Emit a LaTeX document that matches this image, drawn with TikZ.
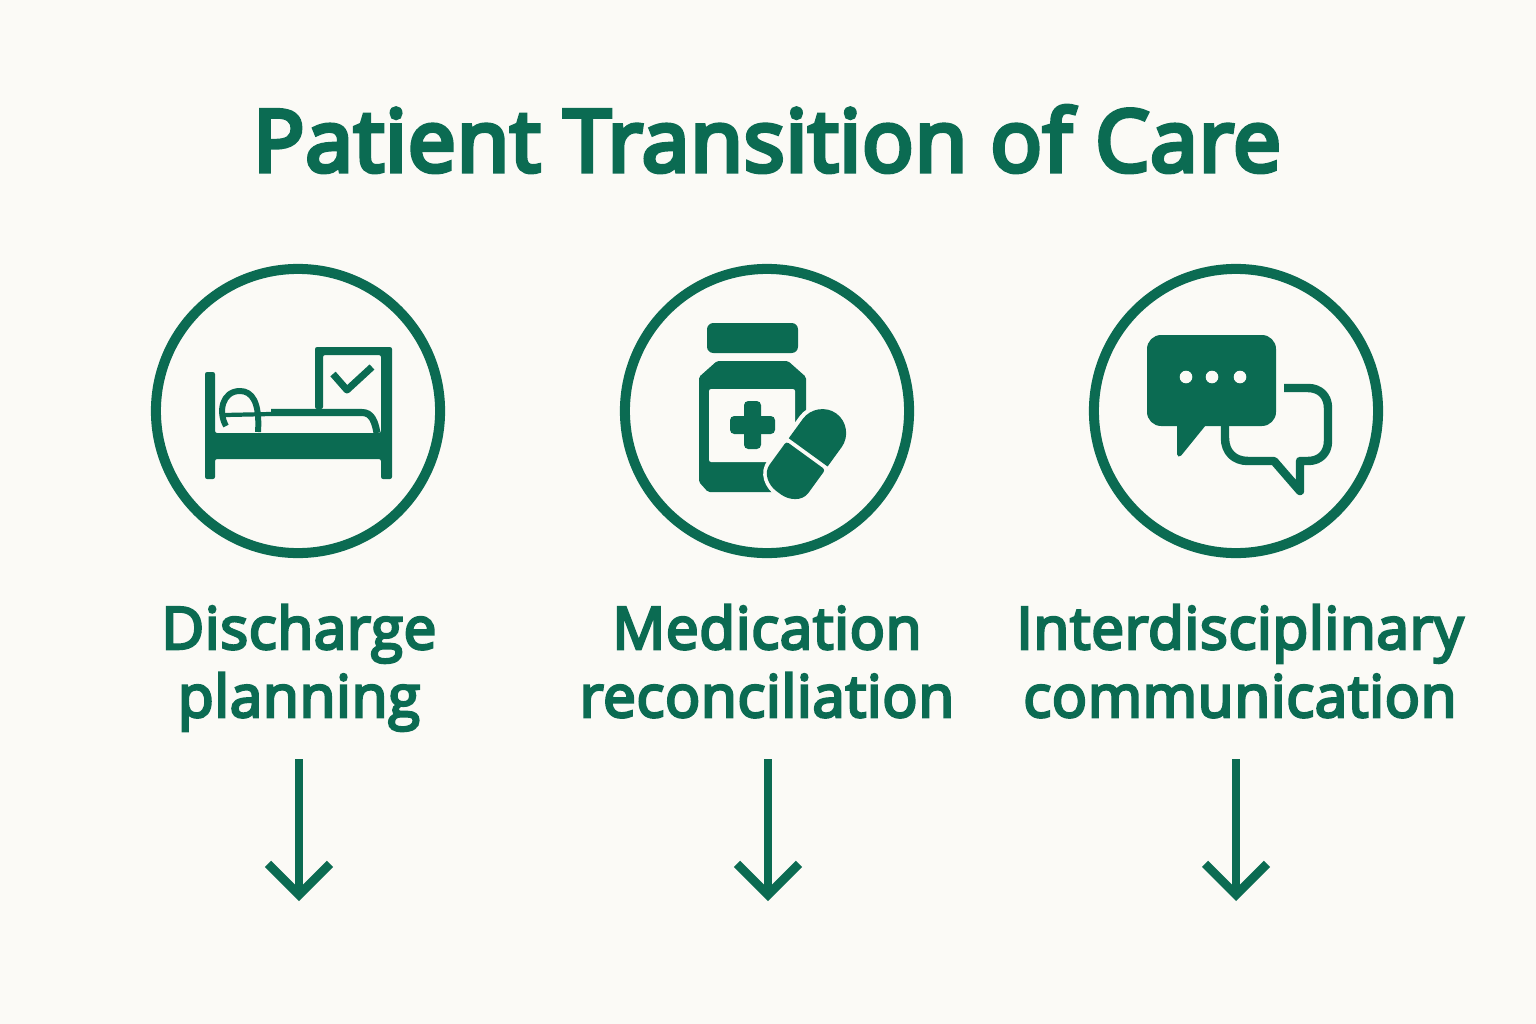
\documentclass[tikz,border=0pt]{standalone}
\usepackage{fontspec}
\setmainfont{Open Sans}
\newfontfamily\headfont[FakeBold=5.5,LetterSpace=1.2]{Open Sans}
\newfontfamily\capfont[FakeBold=4.5,LetterSpace=1.2]{Open Sans}
\usetikzlibrary{arrows.meta}
\definecolor{careGreen}{HTML}{0B6B52}
\definecolor{carePaper}{HTML}{FBFAF6}
\tikzstyle{ring} = [circle,draw=careGreen,line width=2.85pt,minimum size=2.84cm,inner sep=0]
\tikzstyle{heading} = [align=center,text=careGreen,inner sep=0,font=\fontsize{24.3}{30}\selectfont\headfont]
\tikzstyle{caption} = [align=center,text=careGreen,inner sep=0,anchor=base,font=\fontsize{16.6}{19.35}\selectfont\capfont]
\tikzstyle{arrow} = [draw=careGreen,line width=2.5pt,-{Straight Barb[length=8.8pt,width=17.6pt,line width=2.5pt]}]
\tikzstyle{solid} = [fill=careGreen,draw=none]
\tikzstyle{stroke} = [draw=careGreen,fill=none,line join=round]
\tikzstyle{blank} = [fill=carePaper,draw=none]

\begin{document}
\begin{tikzpicture}[x=0.01cm,y=-0.01cm]
    \fill [carePaper] (0,0) rectangle (1536,1024);
    \node [heading] (title) at (767,139) {Patient Transition of Care};
    \node [ring] (c1) at (298,411) {};
    \node [ring] (c2) at (767,411) {};
    \node [ring] (c3) at (1236,411) {};
    \node [caption] (l1) at (299,717) {Discharge\\planning};
    \node [caption] (l2) at (767,717) {Medication\\reconciliation};
    \node [caption] (l3) at (1240,717) {Interdisciplinary\\communication};
    \coordinate (a1) at (299,759);
    \coordinate (b1) at (299,901);
    \coordinate (a2) at (768,759);
    \coordinate (b2) at (768,901);
    \coordinate (a3) at (1236,759);
    \coordinate (b3) at (1236,901);
    \draw [arrow] (a1) -- (b1);
    \draw [arrow] (a2) -- (b2);
    \draw [arrow] (a3) -- (b3);
    % bed
    \fill [solid,rounded corners=0.6pt] (205,372) -- (215,372) -- (215,433) -- (381,433) -- (381,355) -- (323,355) -- (323,409) -- (315,409) -- (315,347) -- (392,347) -- (392,479) -- (381,479) -- (381,459) -- (215,459) -- (215,479) -- (205,479) -- cycle;
    \draw [stroke,line width=2pt] (333,374) -- (347,390) -- (372,367);
    \draw [stroke,line width=2pt] (271,412.5) -- (362,412.5) .. controls (372,412.5) and (375,422) .. (377,433);
    \draw [stroke,line width=1.2pt] (225,415) -- (271,414);
    \draw [stroke,line width=1.7pt] (226,426) .. controls (218,412) and (222,391) .. (240,391) .. controls (252,391) and (260,402) .. (258,432);
    % bottle
    \fill [solid,rounded corners=1.8pt] (707,323) rectangle (798,353);
    \fill [solid,rounded corners=0.5pt] (717,361) -- (788,361) -- (806,377) -- (806,492) -- (708,492) -- (699,482) -- (699,377) -- cycle;
    \fill [blank,rounded corners=0.6pt] (709,389) rectangle (795,462);
    \fill [solid,rounded corners=1.2pt] (730,416) rectangle (775,434);
    \fill [solid,rounded corners=1.2pt] (744,401) rectangle (761,449);
    \begin{scope}[shift={(807,454)},rotate=-36]
      \draw [carePaper,line width=2.4pt,fill=carePaper] (-24,28) -- (-24,-26) .. controls (-24,-39) and (-13,-50) .. (0,-50) .. controls (13,-50) and (24,-39) .. (24,-26) -- (24,28) .. controls (24,41) and (13,48) .. (0,48) .. controls (-13,48) and (-24,41) .. (-24,28) -- cycle;
      \fill [solid] (-24,-2) -- (-24,-26) .. controls (-24,-39) and (-13,-50) .. (0,-50) .. controls (13,-50) and (24,-39) .. (24,-26) -- (24,-2) -- cycle;
      \fill [solid,rounded corners=0.8pt] (-24,2) -- (24,2) -- (24,28) .. controls (24,41) and (13,48) .. (0,48) .. controls (-13,48) and (-24,41) .. (-24,28) -- cycle;
    \end{scope}
    % chat
    \fill [solid,rounded corners=4pt] (1147,335) rectangle (1276,426);
    \fill [solid,rounded corners=0.5pt] (1177,420) -- (1177,456) -- (1180,457) -- (1210,420) -- cycle;
    \fill [carePaper] (1186,377) circle (6.3);
    \fill [carePaper] (1212,377) circle (6.3);
    \fill [carePaper] (1240,377) circle (6.3);
    \draw [stroke,line width=2.4pt] (1284,388) -- (1308,388) .. controls (1320,388) and (1328,396) .. (1328,408) -- (1328,441) .. controls (1328,453) and (1320,461) .. (1308,461) -- (1300,461) -- (1300,491) -- (1274,461) -- (1248,461) .. controls (1234,461) and (1225,452) .. (1225,438) -- (1225,424);
\end{tikzpicture}
\end{document}
